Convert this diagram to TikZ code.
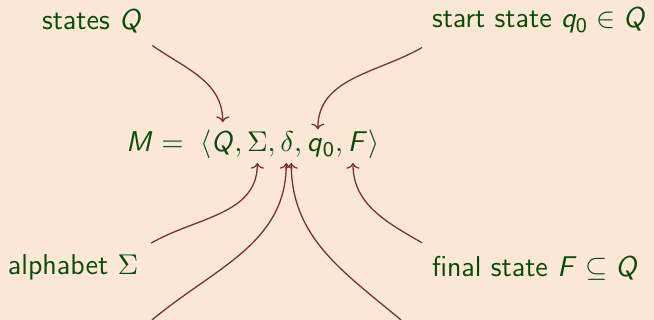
\documentclass[tikz,border=0pt]{standalone}
\usetikzlibrary{arrows.meta}
\DeclareMathAlphabet{\mathsfit}{OT1}{cmss}{m}{sl}
\DeclareMathAlphabet{\mathsfup}{OT1}{cmss}{m}{n}
\definecolor{bg}{RGB}{250,232,212}
\definecolor{fg}{RGB}{10,75,12}
\definecolor{arrowc}{RGB}{125,48,48}
\tikzset{
  lbl/.style={inner sep=0pt, outer sep=0pt, anchor=base west, text=fg, font=\fontsize{11}{13}\selectfont\sffamily},
  sym/.style={inner sep=0pt, outer sep=0pt, anchor=base west, text=fg, font=\fontsize{11}{13}\selectfont},
  arr/.style={draw=arrowc, line width=0.5pt, -{To[length=2.2pt,width=5pt]}}
}
\begin{document}
\begin{tikzpicture}[x=0.3831pt,y=-0.3831pt]
\fill[bg] (0,0) rectangle (654,320);
\useasboundingbox (0,0) rectangle (654,320);
% labels
\node[lbl] (states) at (42,30) {states $\mathsfit{Q}$};
\node[lbl] (start) at (432,28) {start state $\mathsfit{q}_{\mathsfup{0}}\in \mathsfit{Q}$};
\node[lbl] (alpha) at (8,275) {alphabet $\Sigma$};
\node[lbl] (final) at (432,277) {final state $\mathsfit{F}\subseteq \mathsfit{Q}$};
% tuple
\node[sym] (M) at (126,152) {$\mathsfit{M} =$};
\node[sym] (lt) at (200,152) {$\langle$};
\node[sym] (tQ) at (lt.base east) {$\mathsfit{Q}$};
\node[sym] (c1) at (tQ.base east) {$,\mskip\thinmuskip$};
\node[sym] (tS) at (c1.base east) {$\Sigma$};
\node[sym] (c2) at (tS.base east) {$,\mskip\thinmuskip$};
\node[sym] (td) at (c2.base east) {$\delta$};
\node[sym] (c3) at (td.base east) {$,\mskip\thinmuskip$};
\node[sym] (tq) at (c3.base east) {$\mathsfit{q}$};
\node[sym] (t0) at (tq.base east) {$\vphantom{\mathsfit{q}}_{\mathsfup{0}}$};
\node[sym] (c4) at (t0.base east) {$,\mskip\thinmuskip$};
\node[sym] (tF) at (c4.base east) {$\mathsfit{F}$};
\node[sym] (rt) at (tF.base east) {$\rangle$};
% arrows
\draw[arr] ([shift={(10,12)}]states.south east) to[out=-35,in=90] ([shift={(0,-10)}]tQ.north);
\draw[arr] ([shift={(-10,14)}]start.south west) to[out=-150,in=90] ([shift={(3,-10)}]tq.north);
\draw[arr] ([shift={(13,-12)}]alpha.north east) to[out=30,in=-90] ([shift={(0,11)}]tS.south);
\coordinate (b1) at (152,320);
\coordinate (b2) at (401,320);
\draw[arr] (b1) to[out=40,in=-90] ([shift={(-1,11)}]td.south);
\draw[arr] (b2) to[out=140,in=-90] ([shift={(4,11)}]td.south);
\draw[arr] ([shift={(-10,-14)}]final.north west) to[out=150,in=-90] ([shift={(-5,11)}]tF.south);
\end{tikzpicture}
\end{document}
